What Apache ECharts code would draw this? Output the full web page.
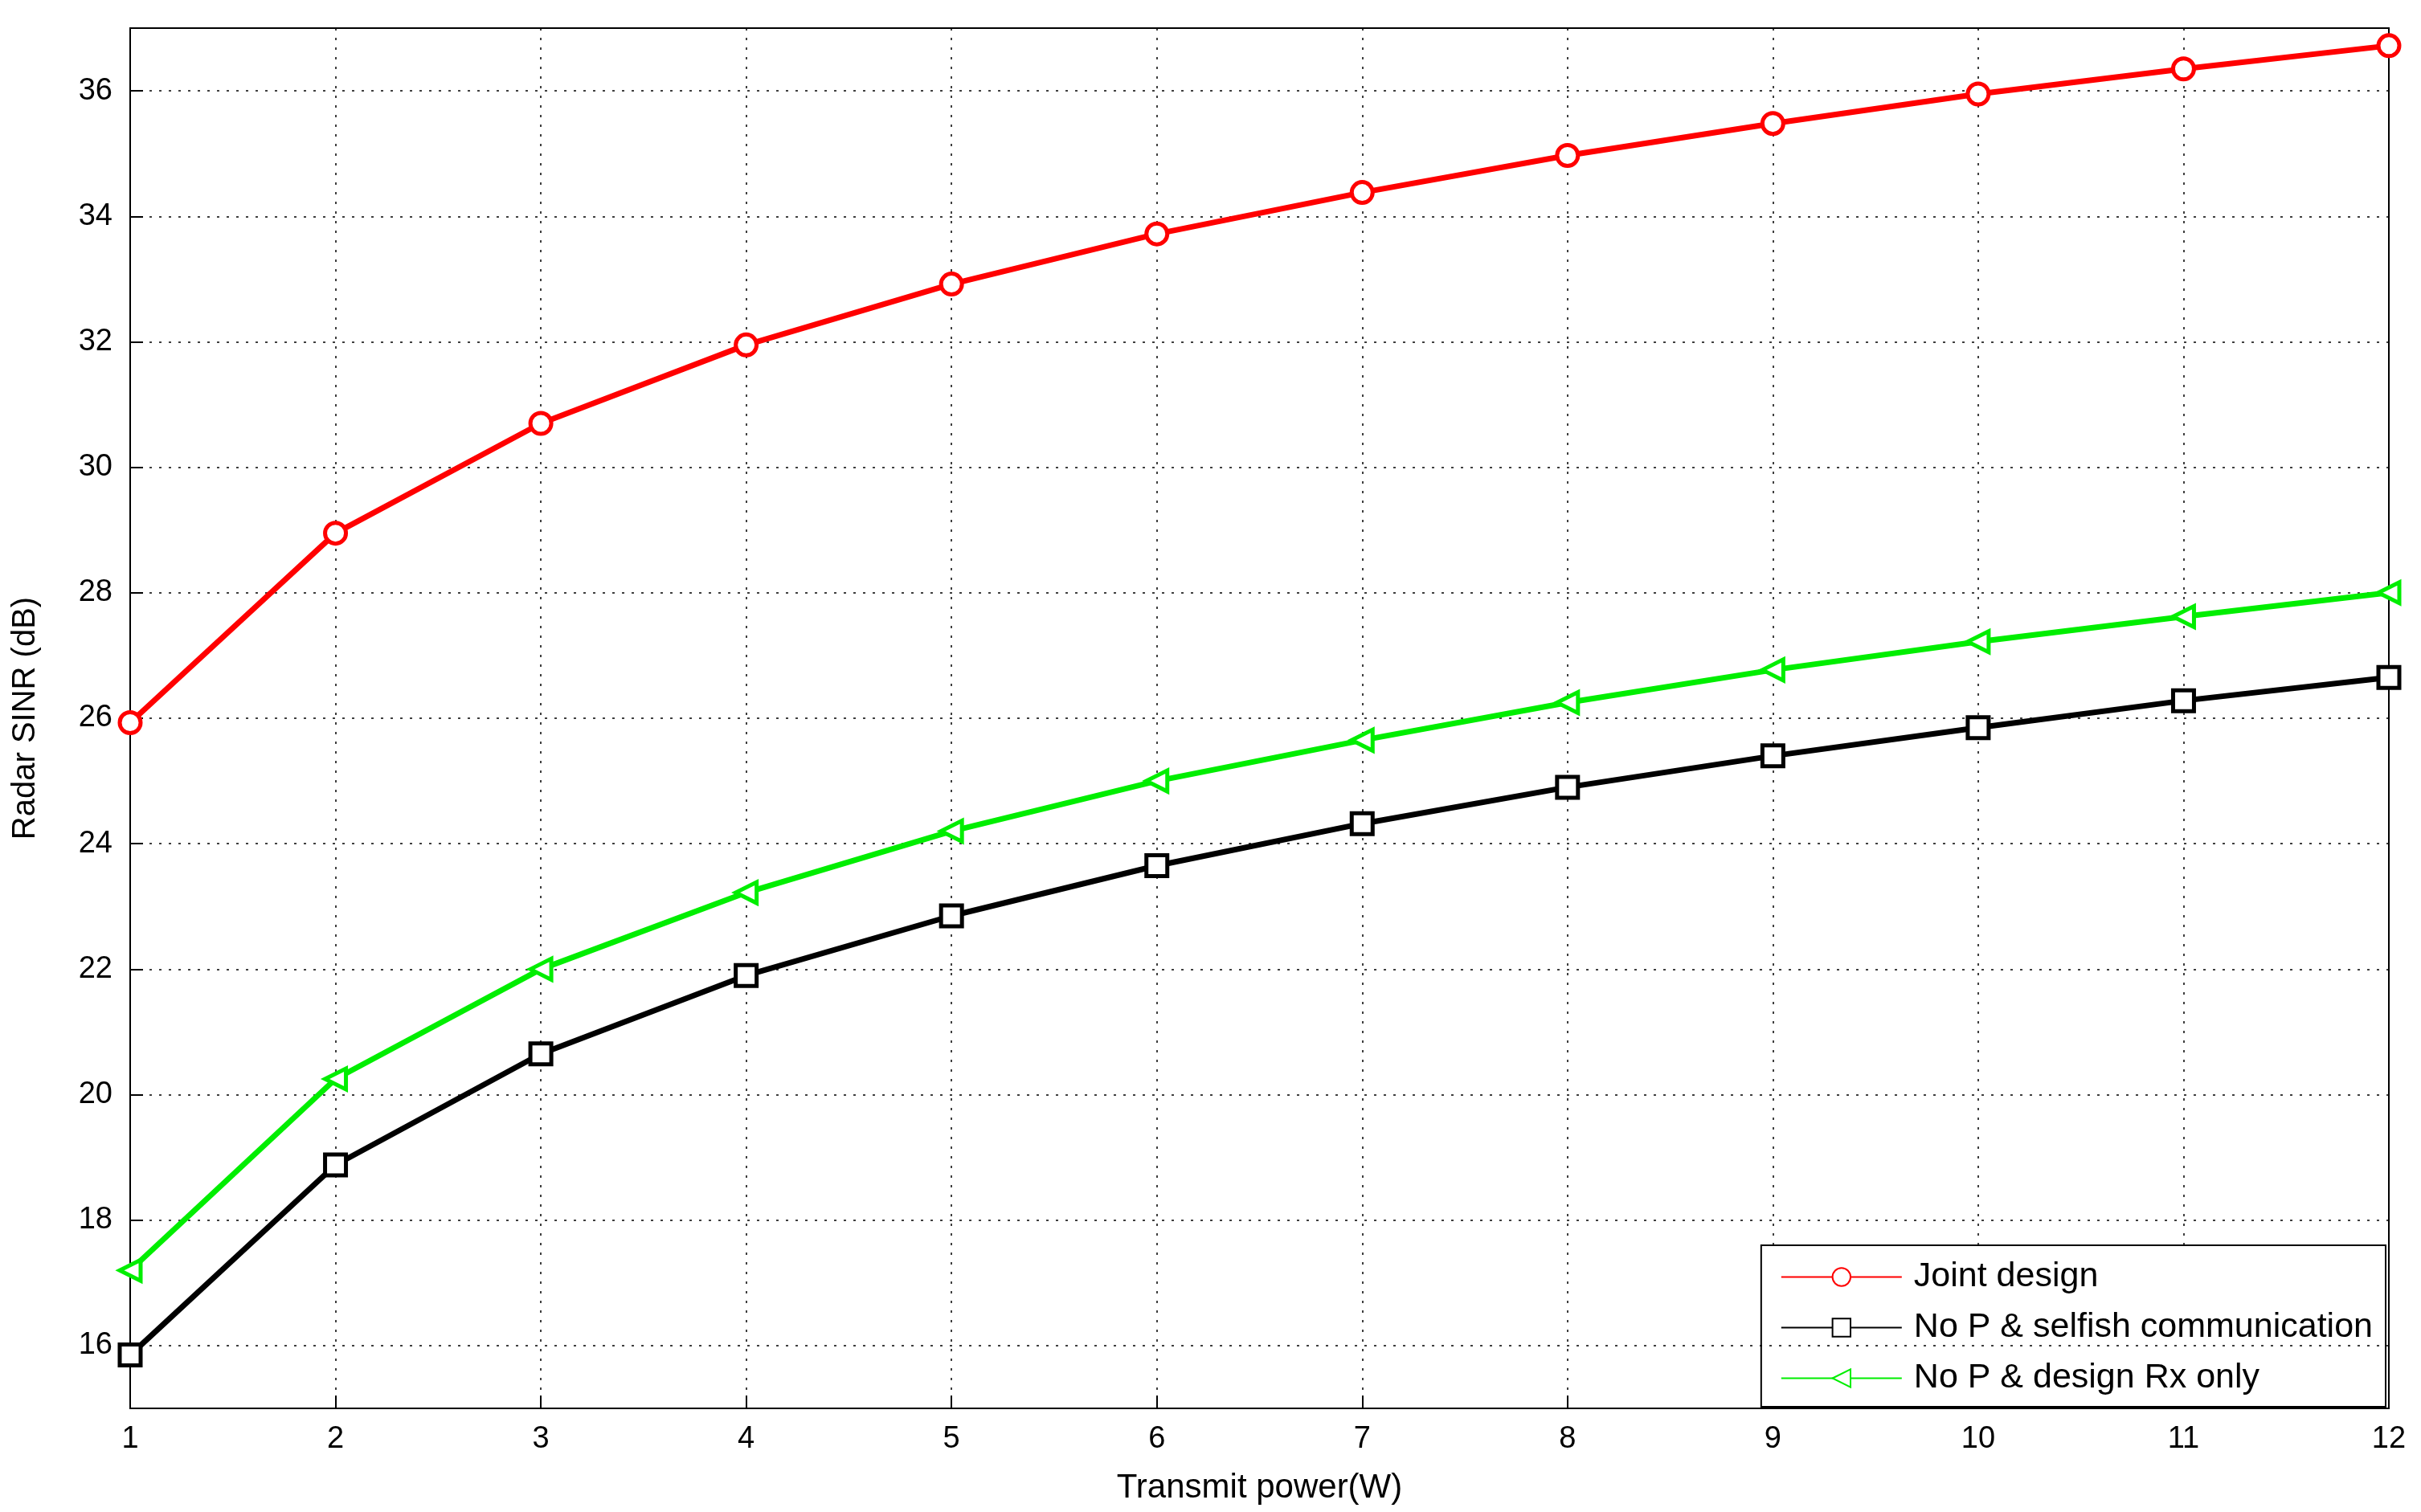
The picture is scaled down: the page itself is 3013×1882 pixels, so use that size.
<!DOCTYPE html>
<html><head><meta charset="utf-8">
<script src="https://cdn.jsdelivr.net/npm/echarts@6/dist/echarts.min.js"></script>
<style>html,body{margin:0;padding:0;background:#fff}#c{width:3013px;height:1882px}</style>
</head><body><div id="c"></div>
<script>
const xValues = [1,2,3,4,5,6,7,8,9,10,11,12];
const jointDesign = [25.93,28.95,30.7,31.95,32.92,33.72,34.38,34.97,35.48,35.95,36.35,36.72];
const selfishComm = [15.85,18.88,20.65,21.9,22.85,23.65,24.32,24.9,25.4,25.85,26.28,26.65];
const rxOnly = [17.2,20.25,22.0,23.22,24.2,25.0,25.65,26.25,26.77,27.22,27.62,28.0];
const yTicks = [16,18,20,22,24,26,28,30,32,34,36];

const font = 'Liberation Sans, Arial, sans-serif';
function mk(name, vals, color, symbol, rot){
  return {name, type:'line', data: xValues.map((x,i)=>[x, vals[i]]),
    symbol, symbolSize: 26, symbolRotate: rot||0,
    lineStyle:{color, width:7}, itemStyle:{color:'#fff', borderColor:color, borderWidth:5},
    emphasis:{disabled:true}, z:5};
}
const chart = echarts.init(document.getElementById('c'));
chart.setOption({
  animation:false,
  backgroundColor:'#fff',
  grid:{left:162, right:40, top:35, bottom:129, show:true, borderColor:'#000', borderWidth:2, backgroundColor:'transparent'},
  xAxis:{type:'value', min:1, max:12, interval:1,
    name:'Transmit power(W)', nameLocation:'middle', nameGap:78,
    nameTextStyle:{fontSize:42, fontFamily:font, color:'#000'},
    axisLine:{lineStyle:{color:'#000', width:2}},
    axisTick:{inside:true, length:16, lineStyle:{color:'#000', width:2}},
    axisLabel:{fontSize:38, fontFamily:font, color:'#000', margin:20},
    splitLine:{show:true, lineStyle:{color:'#000', type:[3,9], width:1.5}}},
  yAxis:{type:'value', min:15, max:37,
    name:'Radar SINR (dB)', nameLocation:'middle', nameGap:110,
    nameTextStyle:{fontSize:40, fontFamily:font, color:'#000'},
    axisLine:{lineStyle:{color:'#000', width:2}},
    axisTick:{inside:true, length:16, customValues:yTicks, lineStyle:{color:'#000', width:2}},
    axisLabel:{fontSize:38, fontFamily:font, color:'#000', margin:22, customValues:yTicks},
    splitLine:{show:false}},
  legend:{orient:'vertical', right:44, bottom:131, padding:[18,16,14,24],
    backgroundColor:'#fff', borderColor:'#000', borderWidth:2,
    itemWidth:150, itemHeight:28, itemGap:20,
    textStyle:{fontSize:43, fontFamily:font, color:'#000', padding:[0,0,0,10]},
    data:['Joint design','No P & selfish communication','No P & design Rx only']},
  series:[
    Object.assign(mk('Joint design', jointDesign, '#ff0000', 'circle'), {
      markLine:{silent:true, symbol:'none', label:{show:false}, lineStyle:{color:'#000', type:[3,9], width:1.5},
        data: yTicks.map(v=>({yAxis:v}))}}),
    mk('No P & selfish communication', selfishComm, '#000000', 'rect'),
    mk('No P & design Rx only', rxOnly, '#00ee00', 'triangle', 90)
  ]
});
</script></body></html>
